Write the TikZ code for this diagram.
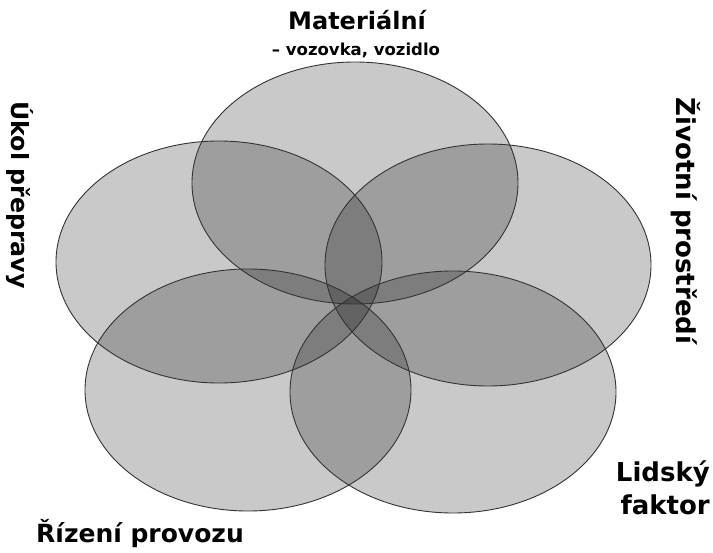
\documentclass[tikz,border=0pt]{standalone}
\usepackage{fontspec}
\setmainfont{DejaVu Sans}
\usepackage{tikz}
\usetikzlibrary{positioning}

\begin{document}
\begin{tikzpicture}[
    x=1pt, y=-1pt,
    petal/.style={fill=black, fill opacity=0.21},
    rim/.style={draw=black!80, line width=0.9pt},
    flatlabel/.style={font=\bfseries\fontsize{25}{33}\selectfont, inner sep=0pt},
    sidelabel/.style={inner sep=0pt, rotate=-90}
]
\useasboundingbox (0,0) rectangle (713,553);

% Centres of the five ellipses
\coordinate (mat) at (355,183);
\coordinate (ukol) at (219,262);
\coordinate (zivot) at (488,265);
\coordinate (rizeni) at (248,390);
\coordinate (lidsky) at (453,392);

% Fills first, outlines on top
\foreach \c in {mat,ukol,zivot,rizeni,lidsky}
    \fill [petal] (\c) ellipse [x radius=163pt, y radius=121pt];
\foreach \c in {mat,ukol,zivot,rizeni,lidsky}
    \draw [rim] (\c) ellipse [x radius=163pt, y radius=121pt];

% Labels
\node [flatlabel, font=\bfseries\fontsize{24}{30}\selectfont, anchor=base] (matlbl) at (357,30) {Materiální};
\node [flatlabel, anchor=base, font=\bfseries\fontsize{16.5}{18}\selectfont] (matsub) at (356,56) {– vozovka, vozidlo};
\node [sidelabel, font=\bfseries\fontsize{23.7}{28}\selectfont] (ukollbl) at (20,195) {Úkol přepravy};
\node [sidelabel, font=\bfseries\fontsize{26}{30}\selectfont] (zivotlbl) at (686,221) {Životní prostředí};
\node [flatlabel, font=\bfseries\fontsize{26}{33}\selectfont, align=right, anchor=north east] (lidskylbl) at (710,461) {Lidský\\faktor};
\node [flatlabel, anchor=base] (rizenilbl) at (140,542) {Řízení provozu};

\end{tikzpicture}
\end{document}
